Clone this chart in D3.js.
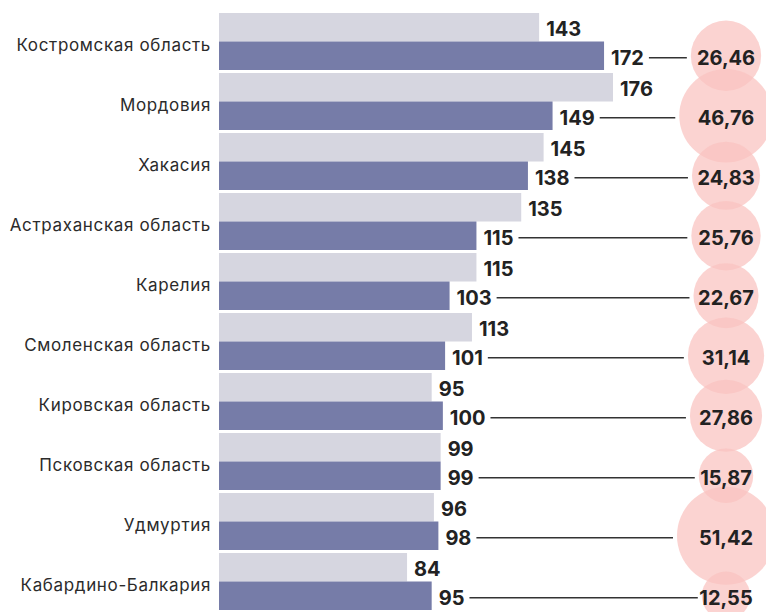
<!DOCTYPE html>
<html><head><meta charset="utf-8">
<script src="https://cdn.jsdelivr.net/npm/d3@7"></script>
<style>
html,body{margin:0;padding:0;background:#fff;}
svg{display:block;}
</style></head>
<body>
<script>
const categories = ["Костромская область","Мордовия","Хакасия","Астраханская область","Карелия","Смоленская область","Кировская область","Псковская область","Удмуртия","Кабардино-Балкария"];
const series1 = [143,176,145,135,115,113,95,99,96,84];
const series2 = [172,149,138,115,103,101,100,99,98,95];
const bubbleValues = [26.46,46.76,24.83,25.76,22.67,31.14,27.86,15.87,51.42,12.55];

const W = 766, H = 612;
const svg = d3.select("body").append("svg").attr("width", W).attr("height", H);

const x = d3.scaleLinear().domain([0, 176]).range([219, 613]);
const y = d3.scaleBand().domain(categories).range([13, 610]).paddingInner(0.05).paddingOuter(0);
const sub = d3.scaleBand().domain([0,1]).range([0, y.bandwidth()]);
const r = d3.scaleSqrt().domain([0, 51.42]).range([0, 49]);
const cx = 726;

const fmt = v => v.toFixed(2).replace(".", ",");
const labelFont = "Inter, 'Liberation Sans', sans-serif";

const g = svg.selectAll("g.row").data(categories).enter().append("g").attr("class","row")
  .attr("transform", d => `translate(0,${y(d)})`);

// category labels
g.append("text")
  .attr("x", 211).attr("y", y.bandwidth()/2 + 3.5)
  .attr("text-anchor","end").attr("dominant-baseline","central")
  .attr("font-family", labelFont).attr("font-size", 17).attr("letter-spacing", 0.65).attr("fill","#2b2b2b")
  .text(d => d);

// bars
g.append("rect").attr("x", x(0)).attr("y", sub(0))
  .attr("width", (d,i) => x(series1[i]) - x(0)).attr("height", sub.bandwidth())
  .attr("fill", "#d6d6e0");
g.append("rect").attr("x", x(0)).attr("y", sub(1))
  .attr("width", (d,i) => x(series2[i]) - x(0)).attr("height", sub.bandwidth())
  .attr("fill", "#767ca8");

// bubbles
const bub = svg.append("g");
bub.selectAll("circle").data(categories).enter().append("circle")
  .attr("cx", cx)
  .attr("cy", (d) => y(d) + sub(1) + sub.bandwidth()/2)
  .attr("r", (d,i) => r(bubbleValues[i]))
  .attr("fill", "rgb(250,195,192)").attr("fill-opacity", 0.73);

// value labels
const l1 = g.append("text")
  .attr("x", (d,i) => x(series1[i]) + 7)
  .attr("y", sub(0) + sub.bandwidth()/2 + 2)
  .attr("dominant-baseline","central")
  .attr("font-family", labelFont).attr("font-weight", 700).attr("font-size", 20).attr("fill","#222")
  .text((d,i) => series1[i]);
const l2 = g.append("text")
  .attr("x", (d,i) => x(series2[i]) + 7)
  .attr("y", sub(1) + sub.bandwidth()/2 + 2)
  .attr("dominant-baseline","central")
  .attr("font-family", labelFont).attr("font-weight", 700).attr("font-size", 20).attr("fill","#222")
  .text((d,i) => series2[i]);

// connector lines
l2.each(function(d,i){
  const bb = this.getBBox();
  d3.select(this.parentNode).append("line")
    .attr("x1", bb.x + bb.width + 5)
    .attr("x2", cx - r(bubbleValues[i]) - 4)
    .attr("y1", sub(1) + sub.bandwidth()/2 + 2)
    .attr("y2", sub(1) + sub.bandwidth()/2 + 2)
    .attr("stroke", "#333").attr("stroke-width", 1.5);
});

// bubble text
svg.append("g").selectAll("text").data(categories).enter().append("text")
  .attr("x", cx).attr("y", d => y(d) + sub(1) + sub.bandwidth()/2 + 2)
  .attr("text-anchor","middle").attr("dominant-baseline","central")
  .attr("font-family", labelFont).attr("font-weight", 700).attr("font-size", 20).attr("fill","#222")
  .text((d,i) => fmt(bubbleValues[i]));
</script>
</body></html>
